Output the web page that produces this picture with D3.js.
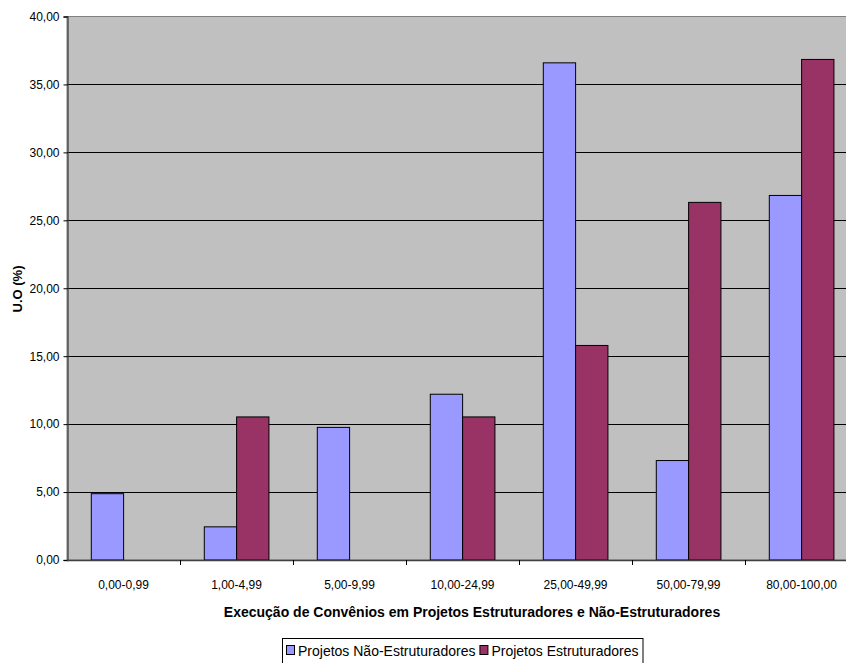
<!DOCTYPE html>
<html>
<head>
<meta charset="utf-8">
<script src="https://cdn.jsdelivr.net/npm/d3@7"></script>
<style>
  html, body { margin: 0; padding: 0; background: #fff; }
  svg { display: block; font-family: "Liberation Sans", Arial, sans-serif; }
</style>
</head>
<body>
<svg id="chart" width="846" height="663"></svg>
<script>
// Faixas de execução (%) e percentuais de U.O por tipo de projeto
const categories = ["0,00-0,99", "1,00-4,99", "5,00-9,99", "10,00-24,99", "25,00-49,99", "50,00-79,99", "80,00-100,00"];
const seriesNames = ["Projetos Não-Estruturadores", "Projetos Estruturadores"];
const naoEstruturadores = [4.88, 2.44, 9.76, 12.20, 36.59, 7.32, 26.83];
const estruturadores   = [0, 10.53, 0, 10.53, 15.79, 26.32, 36.84];
const yTicks = [0, 5, 10, 15, 20, 25, 30, 35, 40];
const colors = ["#9999FF", "#993366"];

const svg = d3.select("#chart");
const plot = { left: 67, right: 858, top: 16.5, bottom: 560 };

const x0 = d3.scaleBand().domain(categories).range([plot.left, plot.right]).padding(0);
const bw = x0.bandwidth();
const x1 = d3.scaleBand().domain(seriesNames).range([bw * 0.215, bw * 0.787]).padding(0);
const y = d3.scaleLinear().domain([0, 40]).range([plot.bottom, plot.top]);
const fmt = v => d3.format(".2f")(v).replace(".", ",");

// plot background
svg.append("rect")
  .attr("x", plot.left).attr("y", plot.top)
  .attr("width", plot.right - plot.left).attr("height", plot.bottom - plot.top)
  .attr("fill", "#C0C0C0")
  .attr("stroke", "#808080").attr("stroke-width", 1);

// horizontal gridlines
svg.append("g").selectAll("line")
  .data(yTicks.filter(t => t > 0 && t < 40))
  .join("line")
  .attr("x1", plot.left).attr("x2", plot.right)
  .attr("y1", d => Math.round(y(d)) + 0.5).attr("y2", d => Math.round(y(d)) + 0.5)
  .attr("stroke", "#000").attr("stroke-width", 1);

// bars
const rows = categories.map((c, i) => ({ cat: c, values: [naoEstruturadores[i], estruturadores[i]] }));
const groups = svg.append("g").selectAll("g")
  .data(rows).join("g")
  .attr("transform", d => `translate(${x0(d.cat)},0)`);
groups.selectAll("rect")
  .data(d => d.values.map((v, k) => ({ key: seriesNames[k], v, k })).filter(e => e.v > 0))
  .join("rect")
  .attr("x", e => x1(e.key))
  .attr("y", e => y(e.v))
  .attr("width", x1.bandwidth())
  .attr("height", e => y(0) - y(e.v))
  .attr("fill", e => colors[e.k])
  .attr("stroke", "#000").attr("stroke-width", 1);

// y axis
const yAxis = d3.axisLeft(y).tickValues(yTicks).tickFormat(fmt).tickSizeOuter(0).tickSize(4).tickPadding(4);
const gy = svg.append("g").attr("transform", `translate(${plot.left + 0.5},0)`).call(yAxis);
gy.select(".domain").attr("stroke", "#404040").attr("stroke-width", 1.3);
gy.selectAll(".tick line").attr("stroke", "#000");
gy.selectAll("text").attr("font-size", 12).attr("fill", "#000");

// x axis: baseline, boundary ticks, centred labels
svg.append("line")
  .attr("x1", plot.left).attr("x2", plot.right)
  .attr("y1", plot.bottom + 0.5).attr("y2", plot.bottom + 0.5)
  .attr("stroke", "#404040").attr("stroke-width", 1.3);
svg.append("g").selectAll("line")
  .data(categories)
  .join("line")
  .attr("x1", d => x0(d) + bw + 0.5).attr("x2", d => x0(d) + bw + 0.5)
  .attr("y1", plot.bottom).attr("y2", plot.bottom + 5)
  .attr("stroke", "#000");
const xAxis = d3.axisBottom(x0).tickSize(0).tickPadding(20);
const gx = svg.append("g").attr("transform", `translate(0,${plot.bottom})`).call(xAxis);
gx.select(".domain").remove();
gx.selectAll("text").attr("font-size", 12).attr("fill", "#000");

// axis titles
svg.append("text")
  .attr("x", 472).attr("y", 617)
  .attr("text-anchor", "middle")
  .attr("font-size", 14).attr("font-weight", "bold")
  .text("Execução de Convênios em Projetos Estruturadores e Não-Estruturadores");
svg.append("text")
  .attr("transform", "translate(22,289) rotate(-90)")
  .attr("text-anchor", "middle")
  .attr("font-size", 13).attr("font-weight", "bold")
  .text("U.O (%)");

// legend: items laid out from the measured text widths
const legend = svg.append("g");
const box = legend.append("rect")
  .attr("y", 638.5).attr("height", 30)
  .attr("fill", "#fff").attr("stroke", "#000");
const legendLeft = 282;
let cursor = legendLeft + 4;
seriesNames.forEach((name, k) => {
  legend.append("rect")
    .attr("x", cursor + 0.5).attr("y", 645.5).attr("width", 8).attr("height", 9)
    .attr("fill", colors[k]).attr("stroke", "#000");
  const t = legend.append("text")
    .attr("x", cursor + 12).attr("y", 656)
    .attr("font-size", 14)
    .text(name);
  cursor += 12 + t.node().getComputedTextLength() + 4;
});
box.attr("x", legendLeft + 0.5).attr("width", cursor - legendLeft);
</script>
</body>
</html>
